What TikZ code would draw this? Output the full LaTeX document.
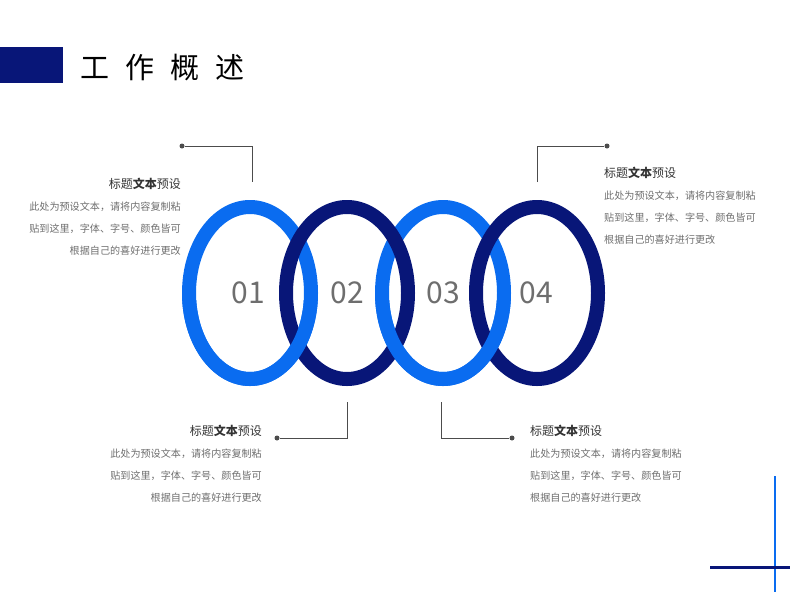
\documentclass[tikz,border=0pt]{standalone}
\usepackage{fontspec}
\setmainfont{Noto Sans CJK SC}
\usetikzlibrary{positioning}
\definecolor{ringlight}{RGB}{10,108,240}
\definecolor{ringdark}{RGB}{8,22,120}
\definecolor{txtgray}{RGB}{110,110,110}
\tikzset{
  lring/.style={draw=ringlight, line width=14pt},
  dring/.style={draw=ringdark, line width=14pt},
  leader/.style={draw=black!70, line width=0.8pt},
  enddot/.style={circle, fill=black!70, inner sep=0pt, minimum size=5pt},
  headtext/.style={font=\fontsize{12}{14}\selectfont, text=black!80, inner sep=0pt},
  bodytext/.style={font=\fontsize{10.1}{22}\selectfont, text=txtgray, inner sep=0pt, align=#1},
  numtext/.style={font=\fontsize{30}{30}\selectfont, text=txtgray}
}
\begin{document}
\begin{tikzpicture}[x=1pt,y=-1pt]
  \useasboundingbox (0,0) rectangle (800,600);
  % title bar
  \fill[ringdark] (0,47) rectangle (63,83);
  \node[anchor=west, inner sep=0pt, font=\fontsize{29}{30}\selectfont] (title) at (80,68) {工\hspace{0.55em}作\hspace{0.55em}概\hspace{0.55em}述};
  % rings
  \foreach \cx in {250,443}{\draw[lring] (\cx,293) ellipse (61 and 86);}
  \foreach \cx in {347,537}{\draw[dring] (\cx,293) ellipse (61 and 86);}
  \begin{scope}
    \clip (0,300) rectangle (800,400);
    \foreach \cx in {250,443}{\draw[lring] (\cx,293) ellipse (61 and 86);}
  \end{scope}
  \node[numtext] (n1) at (248,293) {01};
  \node[numtext] (n2) at (347,293) {02};
  \node[numtext] (n3) at (443,293) {03};
  \node[numtext] (n4) at (536,293) {04};
  % callout 1
  \node[enddot] (d1) at (182,146) {};
  \coordinate (k1) at (252,146);
  \coordinate (e1) at (252,182);
  \draw[leader] (d1) -- (k1) -- (e1);
  \node[headtext, anchor=east] (h1) at (181,184) {标题\textbf{文本}预设};
  \node[bodytext=right, anchor=north east] (b1) at (181,202) {此处为预设文本，请将内容复制粘\\贴到这里，字体、字号、颜色皆可\\根据自己的喜好进行更改};
  % callout 2
  \node[enddot] (d2) at (277,438) {};
  \coordinate (k2) at (347,438);
  \coordinate (e2) at (347,402);
  \draw[leader] (e2) -- (k2) -- (d2);
  \node[headtext, anchor=east] (h2) at (262,431) {标题\textbf{文本}预设};
  \node[bodytext=right, anchor=north east] (b2) at (262,449) {此处为预设文本，请将内容复制粘\\贴到这里，字体、字号、颜色皆可\\根据自己的喜好进行更改};
  % callout 3
  \node[enddot] (d3) at (512,438) {};
  \coordinate (k3) at (441,438);
  \coordinate (e3) at (441,402);
  \draw[leader] (e3) -- (k3) -- (d3);
  \node[headtext, anchor=west] (h3) at (530,431) {标题\textbf{文本}预设};
  \node[bodytext=left, anchor=north west] (b3) at (530,449) {此处为预设文本，请将内容复制粘\\贴到这里，字体、字号、颜色皆可\\根据自己的喜好进行更改};
  % callout 4
  \node[enddot] (d4) at (607,146) {};
  \coordinate (k4) at (537,146);
  \coordinate (e4) at (537,182);
  \draw[leader] (e4) -- (k4) -- (d4);
  \node[headtext, anchor=west] (h4) at (604,173) {标题\textbf{文本}预设};
  \node[bodytext=left, anchor=north west] (b4) at (604,191) {此处为预设文本，请将内容复制粘\\贴到这里，字体、字号、颜色皆可\\根据自己的喜好进行更改};
  % corner mark
  \draw[ringlight, line width=2.5pt] (775,476) -- (775,592);
  \draw[ringdark, line width=3pt] (710,567) -- (790,567);
\end{tikzpicture}
\end{document}
